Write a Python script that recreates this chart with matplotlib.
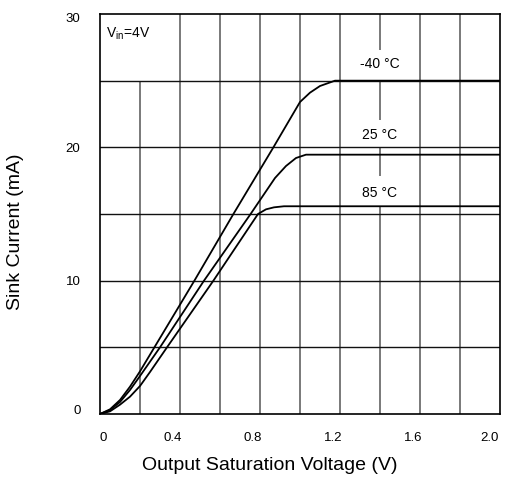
import matplotlib
matplotlib.use("Agg")
import matplotlib.pyplot as plt
from matplotlib.transforms import ScaledTranslation

plt.rcParams['font.family'] = ['Liberation Sans', 'DejaVu Sans']
plt.rcParams['mathtext.default'] = 'regular'

# Sink current vs output saturation voltage, Vin = 4 V
v_m40 = [0.0, 0.05, 0.10, 0.15, 0.20, 0.272, 0.472, 0.667, 0.867, 1.00, 1.05, 1.10, 1.175, 2.0]
i_m40 = [0.0, 0.35, 1.05, 2.05, 3.20, 5.0, 10.0, 15.0, 20.0, 23.4, 24.1, 24.6, 25.0, 25.0]

v_25 = [0.0, 0.05, 0.10, 0.15, 0.20, 0.30, 0.52, 0.753, 0.875, 0.93, 0.98, 1.03, 2.0]
i_25 = [0.0, 0.30, 0.90, 1.80, 2.85, 5.0, 10.0, 15.0, 17.7, 18.6, 19.2, 19.45, 19.45]

v_85 = [0.0, 0.05, 0.10, 0.15, 0.20, 0.25, 0.335, 0.567, 0.79, 0.83, 0.87, 0.92, 2.0]
i_85 = [0.0, 0.20, 0.70, 1.30, 2.10, 3.15, 5.0, 10.0, 15.0, 15.35, 15.5, 15.58, 15.58]

curve_labels = ["-40 °C", "25 °C", "85 °C"]
label_current = [26.25, 20.9, 16.6]
label_voltage = 1.4

x_ticks = [0.0, 0.4, 0.8, 1.2, 1.6, 2.0]
x_tick_labels = ["0", "0.4", "0.8", "1.2", "1.6", "2.0"]
y_ticks = [0, 10, 20, 30]
y_tick_labels = ["0", "10", "20", "30"]

fig = plt.figure(figsize=(5.06, 4.78), dpi=100)
ax = fig.add_axes([100 / 506, 1 - 414 / 478, 400 / 506, 400 / 478])
ax.set_xlim(0, 2.0)
ax.set_ylim(0, 30)

# grid: horizontal every 5 mA, vertical every 0.2 V (left open behind the labels)
for y in [5, 10, 15, 20, 25]:
    ax.axhline(y, color='#111111', lw=1.0, zorder=3)
vgrid_color = '#555555'
for x in [0.4, 0.6, 0.8, 1.0, 1.2, 1.6, 1.8]:
    ax.axvline(x, color=vgrid_color, lw=1.1, zorder=1)
ax.vlines(0.2, 0, 25, color=vgrid_color, lw=1.1, zorder=1)
ax.vlines([1.4] * 4, [0, 17.85, 22.05, 27.3], [15.55, 20.0, 25.0, 30.0],
          color=vgrid_color, lw=1.1, zorder=1)

for v, i in [(v_m40, i_m40), (v_25, i_25), (v_85, i_85)]:
    ax.plot(v, i, color='black', lw=1.3, zorder=4, solid_joinstyle='round')

for lab, yc in zip(curve_labels, label_current):
    ax.text(label_voltage, yc, lab, ha='center', va='center', fontsize=10, zorder=5)

ax.text(0.028, 28.5, r"V$_{in}$=4V", ha='left', va='center', fontsize=10)

ax.set_xticks(x_ticks)
ax.set_xticklabels(x_tick_labels, fontsize=9.5)
ax.set_yticks(y_ticks)
ax.set_yticklabels(y_tick_labels, fontsize=9.5)
ax.tick_params(length=0, pad=13)
ax.tick_params(axis='y', pad=14)

# nudge the x tick labels slightly, as they sit in the printed chart
x_shift = [3, -7, -7, -7, -7, -10]
for lbl, dx in zip(ax.get_xticklabels(), x_shift):
    lbl.set_transform(lbl.get_transform() + ScaledTranslation(dx / 100, 0, fig.dpi_scale_trans))
y_shift = [4, 0, 0, -4]
for lbl, dy in zip(ax.get_yticklabels(), y_shift):
    lbl.set_transform(lbl.get_transform() + ScaledTranslation(0, dy / 100, fig.dpi_scale_trans))

for s in ax.spines.values():
    s.set_linewidth(1.2)
    s.set_color('black')
    s.set_zorder(6)

ax.set_xlabel("Output Saturation Voltage (V)", fontsize=14)
ax.xaxis.set_label_coords(0.424, -0.108)
ax.set_ylabel("Sink Current (mA)", fontsize=14)
ax.yaxis.set_label_coords(-0.19, 0.455)

fig.savefig("out.png", dpi=100)
